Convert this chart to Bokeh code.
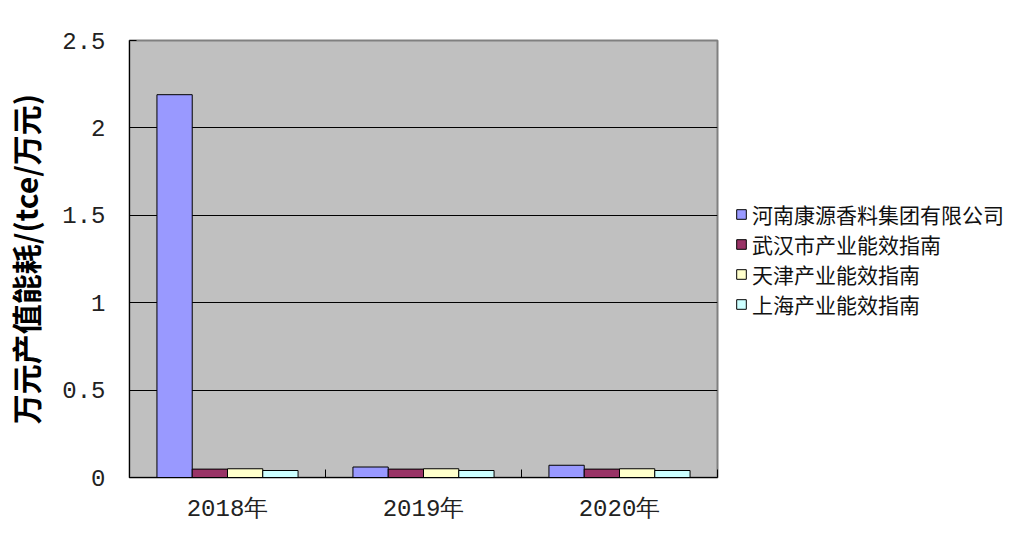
from bokeh.plotting import figure
from bokeh.models import Legend, LegendItem, FixedTicker, Range1d
from bokeh.embed import file_html
from bokeh.resources import INLINE
import numpy as np

# categories and series
years = ["2018年", "2019年", "2020年"]
series_names = ["河南康源香料集团有限公司", "武汉市产业能效指南", "天津产业能效指南", "上海产业能效指南"]
kangyuan = [2.19, 0.06, 0.07]
wuhan = [0.048, 0.048, 0.048]
tianjin = [0.05, 0.05, 0.05]
shanghai = [0.04, 0.04, 0.04]
colors = ["#9999FF", "#993366", "#FFFFCC", "#CCFFFF"]
y_ticks = [0, 0.5, 1, 1.5, 2, 2.5]
y_tick_labels = ["0", "0.5", "1", "1.5", "2", "2.5"]

CJK = "Noto Sans CJK SC"
MONO = "Liberation Mono"

p = figure(frame_width=588, frame_height=437, output_backend="svg", toolbar_location=None,
           x_range=Range1d(0, 3), y_range=Range1d(0, 2.5),
           min_border_left=129, min_border_right=306, min_border_top=40, min_border_bottom=62)
p.background_fill_color = "#C0C0C0"
p.border_fill_color = "white"
p.outline_line_color = "#808080"
p.outline_line_width = 2

bar_w = 0.18
offsets = [-1.5 * bar_w, -0.5 * bar_w, 0.5 * bar_w, 1.5 * bar_w]
centers = np.arange(len(years)) + 0.5
renderers = []
for vals, col, off in zip([kangyuan, wuhan, tianjin, shanghai], colors, offsets):
    r = p.vbar(x=centers + off, top=vals, width=bar_w, bottom=0,
               fill_color=col, line_color="black", line_width=1)
    renderers.append(r)

# grid
p.xgrid.visible = False
p.ygrid.ticker = FixedTicker(ticks=y_ticks)
p.ygrid.grid_line_color = "black"
p.ygrid.grid_line_width = 1

# y axis
p.yaxis.ticker = FixedTicker(ticks=y_ticks)
p.yaxis.major_label_overrides = {t: s for t, s in zip(y_ticks, y_tick_labels)}
p.yaxis.major_tick_in = 7
p.yaxis.major_tick_out = 0
p.yaxis.minor_tick_line_color = None
p.yaxis.axis_line_color = "black"
p.yaxis.major_tick_line_color = "black"
p.yaxis.major_label_text_font = MONO
p.yaxis.major_label_text_font_size = "24px"
p.yaxis.major_label_text_color = "#222222"
p.yaxis.major_label_standoff = 24
p.yaxis.axis_label = "万元产值能耗/(tce/万元)"
p.yaxis.axis_label_text_font = CJK
p.yaxis.axis_label_text_font_size = "30px"
p.yaxis.axis_label_text_font_style = "bold"
p.yaxis.axis_label_text_color = "black"
p.yaxis.axis_label_standoff = 12

# x axis: labels at category centres, ticks at category boundaries
p.xaxis.ticker = FixedTicker(ticks=list(centers), minor_ticks=list(range(len(years) + 1)))
p.xaxis.major_label_overrides = {float(c): y for c, y in zip(centers, years)}
p.xaxis.major_tick_in = 0
p.xaxis.major_tick_out = 0
p.xaxis.minor_tick_in = 8
p.xaxis.minor_tick_out = 0
p.xaxis.minor_tick_line_color = "black"
p.xaxis.axis_line_color = "black"
p.xaxis.major_label_text_font = MONO
p.xaxis.major_label_text_font_size = "24px"
p.xaxis.major_label_text_color = "#222222"
p.xaxis.major_label_standoff = 18

# legend, beside the plot area
legend = Legend(items=[LegendItem(label=n, renderers=[r]) for n, r in zip(series_names, renderers)],
                location="center_left", padding=0, margin=18, spacing=0, label_height=27,
                glyph_width=12, glyph_height=12, label_standoff=5,
                background_fill_alpha=0, border_line_color=None,
                label_text_font=CJK, label_text_font_size="21px", label_text_color="#111111")
p.add_layout(legend, "right")

open("out.html", "w").write(file_html(p, INLINE))
